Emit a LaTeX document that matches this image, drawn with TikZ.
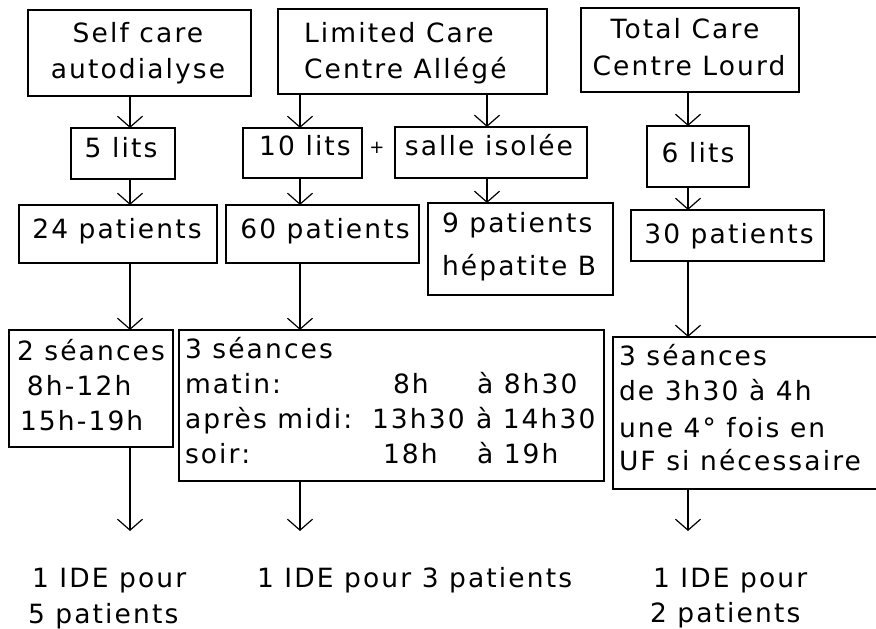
\documentclass[tikz,border=0pt]{standalone}
\usepackage{fontspec}
\setmainfont{DejaVu Sans}[LetterSpace=8]
\usetikzlibrary{arrows.meta}
\begin{document}
\begin{tikzpicture}[x=1pt,y=-1pt,
  box/.style={draw, line width=1.3pt, inner sep=0pt, outer sep=0pt},
  txt/.style={inner sep=0pt, outer sep=0pt, anchor=base west, font=\fontsize{26.5}{36}\selectfont},
  ctxt/.style={txt, anchor=base},
  arr/.style={line width=1.2pt, -{Straight Barb[length=11pt,width=25pt,line width=1.2pt]}}]
\useasboundingbox (0,0) rectangle (876,629);
\fill[white] (0,0) rectangle (876,629);
\begin{scope}
\clip (0,0) rectangle (876,629);
% boxes
\node[box, minimum width=223pt, minimum height=86pt] (b1) at (139.5,53) {};
\node[box, minimum width=269pt, minimum height=85pt] (b2) at (412.5,51.5) {};
\node[box, minimum width=218pt, minimum height=84pt] (b3) at (690,50) {};
\node[box, minimum width=104pt, minimum height=51pt] (l5) at (123,153.5) {};
\node[box, minimum width=119pt, minimum height=50pt] (l10) at (302.5,153) {};
\node[box, minimum width=192pt, minimum height=51pt] (salle) at (491,152.5) {};
\node[box, minimum width=102pt, minimum height=61pt] (l6) at (698,156.5) {};
\node[box, minimum width=198pt, minimum height=58pt] (p24) at (118,234) {};
\node[box, minimum width=193pt, minimum height=58pt] (p60) at (322.5,234) {};
\node[box, minimum width=185pt, minimum height=92pt] (p9) at (520.5,249) {};
\node[box, minimum width=193pt, minimum height=51pt] (p30) at (727.5,235.5) {};
\node[box, minimum width=164pt, minimum height=117pt] (s2) at (91,388.5) {};
\node[box, minimum width=425pt, minimum height=151pt] (s3) at (391.5,405.5) {};
\node[box, minimum width=267pt, minimum height=152pt] (s3r) at (746.5,413) {};
\end{scope}
% texts
\node[ctxt] (t1a) at (138,42) {Self care};
\node[ctxt] (t1b) at (138,78) {autodialyse};
\node[txt] (t2a) at (304,42) {Limited Care};
\node[txt] (t2b) at (304,78) {Centre Allégé};
\node[ctxt] (t3a) at (685,38) {Total Care};
\node[ctxt] (t3b) at (689,75) {Centre Lourd};
\node[ctxt] (t5) at (121,157) {5 lits};
\node[ctxt] (t10) at (305,155) {10 lits};
\node[inner sep=0pt, font=\fontsize{18}{18}\selectfont] (plus) at (377,148) {+};
\node[ctxt] (tsalle) at (489,155) {salle isolée};
\node[ctxt] (t6) at (698,162) {6 lits};
\node[ctxt] (t24) at (117,238) {24 patients};
\node[ctxt] (t60) at (325,238) {60 patients};
\node[txt] (t9a) at (442,232) {9 patients};
\node[txt] (t9b) at (442,275) {hépatite B};
\node[ctxt] (t30) at (729,243) {30 patients};
\node[txt] (s2a) at (17,360) {2 séances};
\node[txt] (s2b) at (27,395) {8h-12h};
\node[txt] (s2c) at (20,430) {15h-19h};
\node[txt] (s3a) at (185,358) {3 séances};
\node[txt] (s3b) at (185,393) {matin:};
\node[txt] (s3b2) at (393,393) {8h};
\node[txt] (s3b3) at (477,393) {à 8h30};
\node[txt] (s3c) at (185,428) {après midi:};
\node[txt] (s3c2) at (372,428) {13h30};
\node[txt] (s3c3) at (476,428) {à 14h30};
\node[txt] (s3d) at (185,463) {soir:};
\node[txt] (s3d2) at (383,463) {18h};
\node[txt] (s3d3) at (477,463) {à 19h};
\node[txt] (r1) at (619,365) {3 séances};
\node[txt] (r2) at (619,400) {de 3h30 à 4h};
\node[txt] (r3) at (619,437) {une 4° fois en};
\node[txt] (r4) at (619,470) {UF si nécessaire};
\node[txt] (f1a) at (32,587) {1 IDE pour};
\node[txt] (f1b) at (28,623) {5 patients};
\node[txt] (f2) at (257,587) {1 IDE pour 3 patients};
\node[txt] (f3a) at (653,587) {1 IDE pour};
\node[txt] (f3b) at (650,622) {2 patients};
% connectors
\coordinate (c1) at (130,0);
\coordinate (c2) at (300,0);
\coordinate (c3) at (487,0);
\coordinate (c4) at (688,0);
\coordinate (e1) at (130,531);
\coordinate (e2) at (300,531);
\coordinate (e4) at (688,531);
\draw[arr] (c1 |- b1.south) -- (c1 |- l5.north);
\draw[arr] (c1 |- l5.south) -- (c1 |- p24.north);
\draw[arr] (c1 |- p24.south) -- (c1 |- s2.north);
\draw[arr] (c1 |- s2.south) -- (e1);
\draw[arr] (c2 |- b2.south) -- (c2 |- l10.north);
\draw[arr] (c2 |- l10.south) -- (c2 |- p60.north);
\draw[arr] (c2 |- p60.south) -- (c2 |- s3.north);
\draw[arr] (c2 |- s3.south) -- (e2);
\draw[arr] (c3 |- b2.south) -- (c3 |- salle.north);
\draw[arr] (c3 |- salle.south) -- (c3 |- p9.north);
\draw[arr] (c4 |- b3.south) -- (c4 |- l6.north);
\draw[arr] (c4 |- l6.south) -- (c4 |- p30.north);
\draw[arr] (c4 |- p30.south) -- (c4 |- s3r.north);
\draw[arr] (c4 |- s3r.south) -- (e4);
\end{tikzpicture}
\end{document}
